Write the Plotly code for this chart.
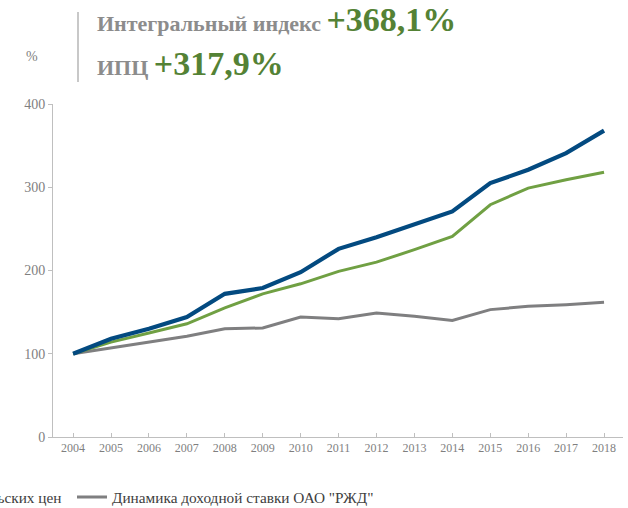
import plotly.graph_objects as go

years = list(range(2004, 2019))
integral_index = [100, 118, 130, 144, 172, 179, 198, 226, 240, 255, 271, 305, 321, 341, 368]
cpi_index = [100, 114, 125, 136, 155, 172, 184, 199, 210, 225, 241, 279, 299, 309, 318]
rzd_rate = [100, 107, 114, 121, 130, 131, 144, 142, 149, 145, 140, 153, 157, 159, 162]

names = ["Интегральный индекс", "Индекс потребительских цен", 'Динамика доходной ставки ОАО "РЖД"']
colors = ["#034A80", "#70A043", "#7F7F80"]
widths = [4.2, 3, 3]

W, H = 628, 508
L, R, T, B = 53, 5, 104, 71
pw, ph = W - L - R, H - T - B

def px(x):
    return (x - L) / pw

def py(y):
    return (H - B - y) / ph

FONT = "Liberation Serif"
fig = go.Figure()
series = [integral_index, cpi_index, rzd_rate]
order = [2, 1, 0]
for i in order:
    fig.add_trace(go.Scatter(x=years, y=series[i], mode="lines", name=names[i],
                             line=dict(color=colors[i], width=widths[i]),
                             showlegend=(i == 2)))

fig.update_layout(
    width=W, height=H,
    margin=dict(l=L, r=R, t=T, b=B, autoexpand=False),
    paper_bgcolor="white", plot_bgcolor="white",
    font=dict(family=FONT, color="#808080"),
    xaxis=dict(range=[2003.47, 2018.5], tickmode="array", tickvals=years,
               ticktext=[str(y) for y in years], showgrid=False, zeroline=False,
               showline=True, linecolor="#BFBFBF", linewidth=1,
               ticks="inside", ticklen=4, tickcolor="#BFBFBF",
               tickfont=dict(size=12, color="#7F7F7F", family=FONT)),
    yaxis=dict(range=[0, 400], tickvals=[0, 100, 200, 300, 400], showgrid=False,
               zeroline=False, showline=True, linecolor="#BFBFBF", linewidth=1,
               ticks="outside", ticklen=4, tickcolor="#BFBFBF",
               tickfont=dict(size=14, color="#7F7F7F", family=FONT)),
    legend=dict(orientation="h", x=px(72), y=py(497), xanchor="left", yanchor="middle",
                font=dict(size=15.3, color="#404040", family=FONT), bgcolor="rgba(0,0,0,0)"),
)

# cut-off legend text of the green series (extends beyond the left edge)
fig.add_annotation(xref="paper", yref="paper", x=px(64), y=py(497), xanchor="right",
                   yanchor="middle", showarrow=False,
                   text="Индекс потребительских цен",
                   font=dict(size=15.3, color="#404040", family=FONT))

fig.add_annotation(xref="paper", yref="paper", x=px(24), y=py(57), xanchor="left",
                   yanchor="middle", showarrow=False, text="%",
                   font=dict(size=14, color="#7F7F7F", family=FONT))

fig.add_shape(type="line", xref="paper", yref="paper", x0=px(78), x1=px(78),
              y0=py(12), y1=py(82), line=dict(color="#C8C8C8", width=2))

fig.add_annotation(xref="paper", yref="paper", x=px(95), y=py(40), xanchor="left",
                   yanchor="bottom", showarrow=False,
                   text="<b><span style='font-size:22px;color:#8C8C8C'>Интегральный индекс&nbsp;</span>"
                        "<span style='font-size:34px;color:#548235'>+368,1%</span></b>",
                   font=dict(family=FONT))
fig.add_annotation(xref="paper", yref="paper", x=px(95), y=py(84), xanchor="left",
                   yanchor="bottom", showarrow=False,
                   text="<b><span style='font-size:22px;color:#8C8C8C'>ИПЦ&nbsp;</span>"
                        "<span style='font-size:34px;color:#548235'>+317,9%</span></b>",
                   font=dict(family=FONT))

fig.write_html("out.html", config={"displayModeBar": False},
               post_script="document.body.style.margin='0';document.body.style.padding='0';")
